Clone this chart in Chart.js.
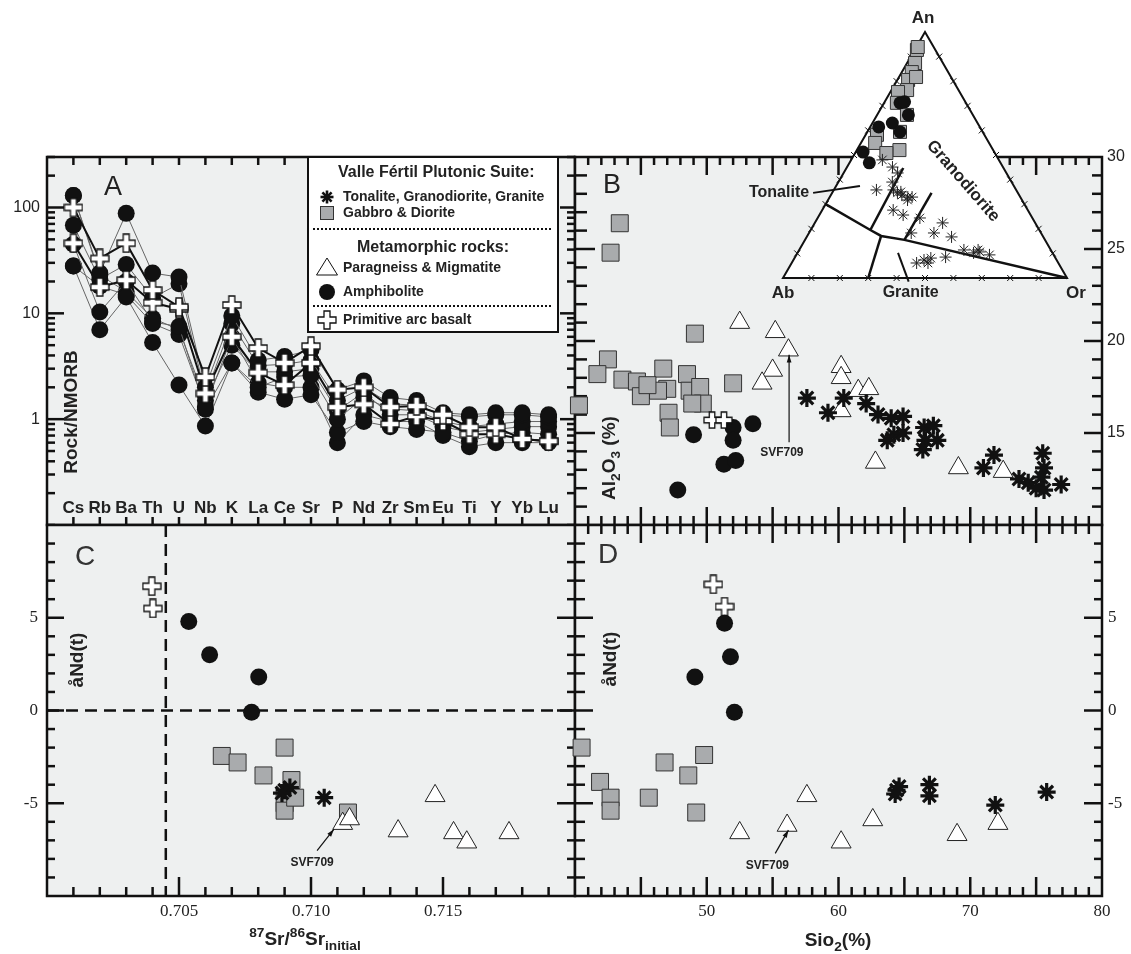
<!DOCTYPE html>
<html>
<head>
<meta charset="utf-8">
<script src="https://cdn.jsdelivr.net/npm/chart.js@4.4.1/dist/chart.umd.min.js"></script>
<style>
  html, body { margin: 0; padding: 0; background: #fff; }
  #wrap { position: relative; width: 1131px; height: 954px; overflow: hidden; }
  #wrap canvas { position: absolute; left: 0; top: 0; }
</style>
</head>
<body>
<div id="wrap">
  <canvas id="chartA" width="1131" height="954"></canvas>
  <canvas id="chartB" width="1131" height="954"></canvas>
  <canvas id="chartC" width="1131" height="954"></canvas>
  <canvas id="chartD" width="1131" height="954"></canvas>
  <canvas id="chartT" width="1131" height="954"></canvas>
</div>
<script>
// ---- data -------------------------------------------------------------

// A: rock / NMORB spider diagram
var elements = ['Cs', 'Rb', 'Ba', 'Th', 'U', 'Nb', 'K', 'La', 'Ce', 'Sr', 'P', 'Nd', 'Zr', 'Sm', 'Eu', 'Ti', 'Y', 'Yb', 'Lu'];
var amph1 = [130, 24, 88, 24, 22, 2.0, 9.5, 3.6, 3.9, 4.5, 1.9, 2.3, 1.6, 1.5, 1.15, 1.1, 1.15, 1.15, 1.1];
var amph2 = [68, 21, 29, 14, 19, 1.7, 8.0, 3.2, 3.3, 3.6, 1.5, 2.0, 1.4, 1.35, 1.1, 1.05, 1.1, 1.1, 1.05];
var amph3 = [45, 10.3, 20, 8.3, 7.5, 1.24, 3.4, 2.0, 2.5, 2.6, 1.0, 1.6, 1.25, 1.2, 0.95, 0.85, 0.9, 0.95, 0.95];
var amph4 = [28, 7, 14.3, 5.3, 2.1, 0.86, 3.4, 1.8, 1.54, 1.7, 0.75, 0.95, 0.85, 0.8, 0.75, 0.62, 0.72, 0.75, 0.72];
var amph5 = [28, 18, 15, 8, 6.3, 1.3, 6.0, 2.2, 2.0, 2.0, 0.6, 1.1, 0.95, 0.95, 0.7, 0.55, 0.6, 0.6, 0.6];
var amph6 = [130, 23, 16, 9, 7, 1.5, 5.0, 2.8, 2.8, 3.0, 1.2, 1.8, 1.1, 1.1, 0.85, 0.75, 0.8, 0.85, 0.85];
var arcBasalt1 = [100, 33, 46, 16.6, 11.5, 2.5, 12, 4.7, 3.4, 4.9, 1.9, 2.0, 1.3, 1.33, 1.1, 0.84, 0.84, 0.65, 0.62];
var arcBasalt2 = [46, 17.7, 20.6, 12.6, 11.0, 1.75, 6.0, 2.75, 2.1, 3.4, 1.3, 1.38, 0.9, 1.07, 0.96, 0.72, 0.72, 0.65, 0.62];
var aTickLabels = [1, 10, 100];

// B: SiO2 vs Al2O3 [SiO2, Al2O3]
var gabbroB = [[43.4, 26.4], [42.7, 24.8], [49.1, 20.4], [42.5, 19.0], [41.7, 18.2], [40.3, 16.5], [43.6, 17.9],
  [44.7, 17.8], [45.0, 17.0], [46.7, 18.5], [47.0, 17.4], [46.3, 17.3], [48.5, 18.2], [48.7, 17.3], [49.5, 17.5],
  [49.7, 16.6], [47.1, 16.1], [47.2, 15.3], [52.0, 17.7], [45.5, 17.6], [48.9, 16.6]];
var amphB = [[53.5, 15.5], [49.0, 14.9], [52.0, 15.3], [52.0, 14.6], [51.3, 13.3], [52.2, 13.5], [47.8, 11.9]];
var arcB = [[50.4, 15.7], [51.3, 15.7]];
var paraB = [[52.5, 21.0], [55.2, 20.5], [56.2, 19.5], [55.0, 18.4], [54.2, 17.7], [60.2, 18.6], [60.2, 18.0],
  [60.2, 16.2], [61.5, 17.3], [62.3, 17.4], [62.8, 13.4], [69.1, 13.1], [72.5, 12.9]];
var tonB = [[57.6, 16.9], [60.4, 16.9], [59.2, 16.1], [62.1, 16.6], [63.0, 16.0], [64.0, 15.8], [64.9, 15.9],
  [64.2, 14.9], [63.7, 14.6], [64.9, 15.0], [66.5, 15.3], [67.2, 15.4], [66.6, 14.6], [66.4, 14.1], [67.5, 14.6],
  [71.8, 13.8], [71.0, 13.1], [75.5, 13.9], [75.6, 13.1], [74.4, 12.3], [75.6, 11.9], [76.9, 12.2], [75.4, 12.6],
  [73.7, 12.5], [75.0, 12.0]];
var bTickLabels = [15, 20, 25, 30];

// C: 87Sr/86Sr(i) vs eNd(t)
var arcC = [[0.70397, 6.7], [0.70401, 5.5]];
var amphC = [[0.70537, 4.8], [0.70616, 3.0], [0.70802, 1.8], [0.70775, -0.1]];
var gabbroC = [[0.70662, -2.45], [0.70722, -2.8], [0.7082, -3.5], [0.7090, -2.0], [0.70926, -3.75], [0.7090, -5.0],
  [0.7090, -5.4], [0.7094, -4.7], [0.7114, -5.5]];
var tonC = [[0.7090, -4.3], [0.7092, -4.15], [0.7089, -4.45], [0.7105, -4.7]];
var paraC = [[0.7112, -6.1], [0.71146, -5.85], [0.7133, -6.5], [0.7147, -4.6], [0.7154, -6.6], [0.7159, -7.1], [0.7175, -6.6]];
var cTickLabels = ['0.705', '0.710', '0.715'];
var srCutoff = 0.7045;

// D: SiO2 vs eNd(t)
var arcD = [[50.5, 6.8], [51.35, 5.6]];
var amphD = [[51.35, 4.7], [51.8, 2.9], [49.1, 1.8], [52.1, -0.1]];
var gabbroD = [[40.5, -2.0], [46.8, -2.8], [49.8, -2.4], [48.6, -3.5], [41.9, -3.85], [42.7, -4.7], [42.7, -5.4],
  [45.6, -4.7], [49.2, -5.5]];
var paraD = [[52.5, -6.6], [56.1, -6.2], [57.6, -4.6], [60.2, -7.1], [62.6, -5.9], [69.0, -6.7], [72.1, -6.1]];
var tonD = [[64.4, -4.3], [64.6, -4.1], [64.3, -4.5], [66.9, -4.0], [66.9, -4.6], [71.9, -5.1], [75.8, -4.4]];
var ndTickLabels = [-5, 0, 5];
var dTickLabels = [50, 60, 70, 80];

// ternary An-Ab-Or inset, [An, Or] in %
var gabbroT = [[92.7, 0.8], [87.4, 2.8], [83.7, 3.5], [80.5, 3.8], [76.4, 5.5], [75.6, 2.7], [71.2, 4.5], [66.3, 10.5],
  [59.4, 11.5], [58.2, 4], [54.9, 5], [52, 15], [50.8, 11], [81.7, 6], [93.9, 0.5]];
var amphT = [[71.2, 5.6], [71.6, 7], [66.3, 11], [61.4, 3], [63, 7], [59.4, 11.5], [51.2, 2.6], [46.8, 7]];
var tonT = [[48, 11], [45.1, 16], [42.7, 19], [39, 19], [35.8, 15], [35.8, 21], [35, 24], [33.7, 25], [32.9, 27.5],
  [32.9, 29], [27.6, 25], [25.6, 29.5], [24.4, 36], [18.3, 36], [22.4, 45], [18.3, 44], [16.7, 51], [11.4, 58],
  [10.2, 62], [10.6, 64], [9.4, 68], [8.5, 53], [6.1, 44], [7.3, 46], [8.1, 48], [6.1, 48], [34.6, 23], [31.7, 28], [11.4, 63]];
var fieldLines = [
  [[30, 0], [19.5, 21], [17.1, 26], [15.5, 35], [0, 100]],
  [[0, 30], [17.1, 26]],
  [[19.5, 21], [44.7, 20]],
  [[15.5, 35], [34.6, 35]]
];

// ---- helpers ----------------------------------------------------------
var W = 1131, H = 954;
var BG = '#eef0f0', SQ = '#a9abad', INK = '#111';
var SANS = '"Liberation Sans", Arial, sans-serif';
var SERIF = '"Liberation Serif", "Times New Roman", serif';

function pairs(arr) { return arr.map(function (p) { return {x: p[0], y: p[1]}; }); }
function spider(vals) { return vals.map(function (v, i) { return {x: i + 1, y: v}; }); }
function tern(an, or) { return {x: (or + an / 2) / 100, y: an * Math.sqrt(3) / 200}; }
function ternPts(arr) { return arr.map(function (p) { return tern(p[0], p[1]); }); }
function range(a, b, step) { var out = []; for (var i = 0; a + i * step <= b + 1e-9; i++) out.push(+(a + i * step).toFixed(6)); return out; }

function plusGlyph(size, arm) {
  var c = document.createElement('canvas');
  c.width = size + 2; c.height = size + 2;
  var g = c.getContext('2d'), o = 1, s = size, m = (size - arm) / 2;
  g.beginPath();
  g.moveTo(o + m, o); g.lineTo(o + m + arm, o); g.lineTo(o + m + arm, o + m); g.lineTo(o + s, o + m);
  g.lineTo(o + s, o + m + arm); g.lineTo(o + m + arm, o + m + arm); g.lineTo(o + m + arm, o + s);
  g.lineTo(o + m, o + s); g.lineTo(o + m, o + m + arm); g.lineTo(o, o + m + arm); g.lineTo(o, o + m);
  g.lineTo(o + m, o + m); g.closePath();
  g.fillStyle = '#fff'; g.fill();
  g.lineWidth = 1.3; g.strokeStyle = INK; g.stroke();
  return c;
}
var plusBig = plusGlyph(18, 6), plusMid = plusGlyph(16, 5.5);

var st = {
  ast: {pointStyle: 'star', pointRadius: 9, pointBorderWidth: 3.2, pointBorderColor: INK, pointBackgroundColor: INK},
  sq: {pointStyle: 'rect', pointRadius: 12, pointBackgroundColor: SQ, pointBorderColor: '#333', pointBorderWidth: 1},
  tri: {pointStyle: 'triangle', pointRadius: 11.5, pointBackgroundColor: '#fff', pointBorderColor: '#222', pointBorderWidth: 1},
  dot: {pointStyle: 'circle', pointRadius: 8.5, pointBackgroundColor: INK, pointBorderColor: INK, pointBorderWidth: 0},
  plus: {pointStyle: plusBig, pointRadius: 9},
  plusB: {pointStyle: plusMid, pointRadius: 8},
  astT: {pointStyle: 'star', pointRadius: 6, pointBorderWidth: 1, pointBorderColor: '#222'},
  sqT: {pointStyle: 'rect', pointRadius: 9.2, pointBackgroundColor: SQ, pointBorderColor: '#333', pointBorderWidth: 1},
  dotT: {pointStyle: 'circle', pointRadius: 6.5, pointBackgroundColor: INK, pointBorderColor: INK, pointBorderWidth: 0}
};
function ds(data, style, extra) {
  var d = Object.assign({data: data, showLine: false, clip: false}, style);
  return Object.assign(d, extra || {});
}

function drawPanel(chart) {
  var ctx = chart.ctx, a = chart.chartArea;
  ctx.save();
  ctx.fillStyle = BG;
  ctx.fillRect(a.left, a.top, a.right - a.left, a.bottom - a.top);
  ctx.strokeStyle = INK; ctx.lineWidth = 2.5;
  ctx.strokeRect(a.left, a.top, a.right - a.left, a.bottom - a.top);
  ctx.restore();
}
function drawTicks(chart, axis, vals, side, lenFn) {
  var ctx = chart.ctx, a = chart.chartArea, s = chart.scales[axis];
  ctx.save(); ctx.strokeStyle = INK; ctx.lineWidth = 2.5;
  vals.forEach(function (v) {
    var p = s.getPixelForValue(v), len = lenFn(v);
    ctx.beginPath();
    if (side === 'left') { ctx.moveTo(a.left, p); ctx.lineTo(a.left + len, p); }
    if (side === 'right') { ctx.moveTo(a.right, p); ctx.lineTo(a.right - len, p); }
    if (side === 'top') { ctx.moveTo(p, a.top); ctx.lineTo(p, a.top + len); }
    if (side === 'bottom') { ctx.moveTo(p, a.bottom); ctx.lineTo(p, a.bottom - len); }
    ctx.stroke();
  });
  ctx.restore();
}
function text(ctx, str, x, y, font, align, rot, color) {
  ctx.save(); ctx.translate(x, y); ctx.rotate(rot || 0);
  ctx.font = font; ctx.fillStyle = color || '#222';
  ctx.textAlign = align || 'center'; ctx.textBaseline = 'middle';
  ctx.fillText(str, 0, 0); ctx.restore();
}
// parts: [string, shift] with shift 1 = superscript, -1 = subscript
function richText(ctx, parts, x, y, size, rot) {
  ctx.save(); ctx.translate(x, y); ctx.rotate(rot || 0);
  ctx.fillStyle = '#222'; ctx.textBaseline = 'middle'; ctx.textAlign = 'left';
  function f(p) { return 'bold ' + (p[1] ? size * 0.72 : size) + 'px ' + SANS; }
  var total = 0;
  parts.forEach(function (p) { ctx.font = f(p); total += ctx.measureText(p[0]).width; });
  var cx = -total / 2;
  parts.forEach(function (p) {
    ctx.font = f(p);
    var dy = p[1] === 1 ? -size * 0.38 : (p[1] === -1 ? size * 0.32 : 0);
    ctx.fillText(p[0], cx, dy);
    cx += ctx.measureText(p[0]).width;
  });
  ctx.restore();
}
function arrow(chart, label, lx, ly, x0, y0, x1, y1) {
  var ctx = chart.ctx, sx = chart.scales.x, sy = chart.scales.y;
  var ax = sx.getPixelForValue(x0), ay = sy.getPixelForValue(y0);
  var bx = sx.getPixelForValue(x1), by = sy.getPixelForValue(y1);
  ctx.save(); ctx.strokeStyle = INK; ctx.fillStyle = INK; ctx.lineWidth = 1.2;
  ctx.beginPath(); ctx.moveTo(ax, ay); ctx.lineTo(bx, by); ctx.stroke();
  var ang = Math.atan2(by - ay, bx - ax);
  ctx.beginPath(); ctx.moveTo(bx, by);
  ctx.lineTo(bx - 8 * Math.cos(ang - 0.3), by - 8 * Math.sin(ang - 0.3));
  ctx.lineTo(bx - 8 * Math.cos(ang + 0.3), by - 8 * Math.sin(ang + 0.3));
  ctx.closePath(); ctx.fill();
  ctx.restore();
  text(ctx, label, sx.getPixelForValue(lx), sy.getPixelForValue(ly), 'bold 12px ' + SANS);
}
function legendSym(ctx, kind, x, y) {
  ctx.save(); ctx.strokeStyle = INK; ctx.fillStyle = INK;
  if (kind === 'ast') {
    ctx.lineWidth = 2.6;
    for (var k = 0; k < 4; k++) {
      var an = k * Math.PI / 4;
      ctx.beginPath(); ctx.moveTo(x - 6.5 * Math.cos(an), y - 6.5 * Math.sin(an));
      ctx.lineTo(x + 6.5 * Math.cos(an), y + 6.5 * Math.sin(an)); ctx.stroke();
    }
  } else if (kind === 'sq') {
    ctx.fillStyle = SQ; ctx.fillRect(x - 6.5, y - 6.5, 13, 13);
    ctx.lineWidth = 1; ctx.strokeStyle = '#333'; ctx.strokeRect(x - 6.5, y - 6.5, 13, 13);
  } else if (kind === 'tri') {
    ctx.beginPath(); ctx.moveTo(x, y - 10); ctx.lineTo(x + 10.5, y + 7); ctx.lineTo(x - 10.5, y + 7); ctx.closePath();
    ctx.fillStyle = '#fff'; ctx.fill(); ctx.lineWidth = 1; ctx.stroke();
  } else if (kind === 'dot') {
    ctx.beginPath(); ctx.arc(x, y, 8, 0, Math.PI * 2); ctx.fill();
  } else if (kind === 'plus') {
    ctx.drawImage(plusBig, x - plusBig.width / 2, y - plusBig.height / 2);
  }
  ctx.restore();
}
function makeChart(id, area, xs, ys, datasets, before, after) {
  return new Chart(document.getElementById(id), {
    type: 'scatter',
    data: {datasets: datasets},
    options: {
      responsive: false, animation: false, events: [],
      layout: {padding: {left: area[0], top: area[1], right: W - area[2], bottom: H - area[3]}},
      scales: {x: Object.assign({display: false}, xs), y: Object.assign({display: false}, ys)},
      plugins: {legend: {display: false}, tooltip: {enabled: false}}
    },
    plugins: [{id: id + 'Deco', beforeDatasetsDraw: before, afterDatasetsDraw: after || function () {}}]
  });
}

// panel edges
var PL = 47, PMX = 575, PR = 1102, PT = 157, PMY = 525, PB = 896;

// ---- A ----------------------------------------------------------------
var logTicks = [];
[0.1, 1, 10, 100].forEach(function (d) {
  for (var m = 1; m <= 9; m++) { var v = +(m * d).toPrecision(3); if (v <= 300) logTicks.push(v); }
});
var catPos = elements.map(function (e, i) { return i + 1; });
var amphStyle = Object.assign({}, st.dot, {showLine: true, borderColor: '#666', borderWidth: 1});
var arcStyle = Object.assign({}, st.plus, {showLine: true, borderColor: INK, borderWidth: 2});

makeChart('chartA', [PL, PT, PMX, PMY],
  {type: 'linear', min: 0, max: 20}, {type: 'logarithmic', min: 0.1, max: 300},
  [ds(spider(arcBasalt1), arcStyle), ds(spider(arcBasalt2), arcStyle),
   ds(spider(amph1), amphStyle), ds(spider(amph2), amphStyle), ds(spider(amph3), amphStyle),
   ds(spider(amph4), amphStyle), ds(spider(amph5), amphStyle), ds(spider(amph6), amphStyle)],
  function (chart) {
    var ctx = chart.ctx, sx = chart.scales.x, sy = chart.scales.y;
    drawPanel(chart);
    var major = function (v) { return aTickLabels.indexOf(v) >= 0; };
    drawTicks(chart, 'y', logTicks, 'left', function (v) { return major(v) ? 17 : 8; });
    drawTicks(chart, 'y', logTicks, 'right', function (v) { return major(v) ? 15 : 8; });
    drawTicks(chart, 'x', catPos, 'top', function () { return 8; });
    drawTicks(chart, 'x', catPos, 'bottom', function () { return 8; });
    aTickLabels.forEach(function (v) { text(ctx, String(v), 40, sy.getPixelForValue(v), '16px ' + SANS, 'right'); });
    elements.forEach(function (e, i) { text(ctx, e, sx.getPixelForValue(i + 1), 508, 'bold 17px ' + SANS); });
    text(ctx, 'A', 113, 188, '27px ' + SANS);
    text(ctx, 'Rock/NMORB', 72, 412, 'bold 19px ' + SANS, 'center', -Math.PI / 2);
  },
  function (chart) {
    var ctx = chart.ctx;
    ctx.save();
    ctx.fillStyle = '#fff'; ctx.fillRect(308, 157, 250, 175);
    ctx.strokeStyle = INK; ctx.lineWidth = 2; ctx.strokeRect(308, 157, 250, 175);
    ctx.setLineDash([2, 2]); ctx.lineWidth = 2;
    [229, 306].forEach(function (y) { ctx.beginPath(); ctx.moveTo(313, y); ctx.lineTo(553, y); ctx.stroke(); });
    ctx.restore();
    text(ctx, 'Valle Fértil Plutonic Suite:', 338, 173, 'bold 16px ' + SANS, 'left');
    text(ctx, 'Metamorphic rocks:', 357, 248, 'bold 16px ' + SANS, 'left');
    var rows = [['ast', 'Tonalite, Granodiorite, Granite', 197], ['sq', 'Gabbro & Diorite', 213],
      ['tri', 'Paragneiss & Migmatite', 268], ['dot', 'Amphibolite', 292], ['plus', 'Primitive arc basalt', 320]];
    rows.forEach(function (r) {
      legendSym(ctx, r[0], 327, r[2]);
      text(ctx, r[1], 343, r[2], 'bold 14px ' + SANS, 'left');
    });
  });

// ---- B ----------------------------------------------------------------
var siTicks = range(41, 79, 1);
var alTicks = range(11, 29, 1);
var siMajor = function (v) { return v % 5 === 0; };
makeChart('chartB', [PMX, PT, PR, PMY],
  {type: 'linear', min: 40, max: 80}, {type: 'linear', min: 10, max: 30},
  [ds(pairs(tonB), st.ast), ds(pairs(arcB), st.plusB), ds(pairs(amphB), st.dot),
   ds(pairs(paraB), st.tri), ds(pairs(gabbroB), st.sq)],
  function (chart) {
    var ctx = chart.ctx, sy = chart.scales.y;
    drawPanel(chart);
    drawTicks(chart, 'x', siTicks, 'top', function (v) { return siMajor(v) ? 18 : 8; });
    drawTicks(chart, 'x', siTicks, 'bottom', function (v) { return siMajor(v) ? 18 : 9; });
    drawTicks(chart, 'y', alTicks, 'left', function (v) { return siMajor(v) ? 20 : 12; });
    drawTicks(chart, 'y', alTicks, 'right', function (v) { return siMajor(v) ? 18 : 10; });
    bTickLabels.forEach(function (v) { text(ctx, String(v), 1107, sy.getPixelForValue(v), '16px ' + SANS, 'left'); });
    text(ctx, 'B', 612, 186, '27px ' + SANS);
    richText(ctx, [['Al', 0], ['2', -1], ['O', 0], ['3', -1], [' (%)', 0]], 610, 458, 19, -Math.PI / 2);
  },
  function (chart) {
    arrow(chart, 'SVF709', 55.7, 13.95, 56.25, 14.5, 56.25, 19.25);
  });

// ---- C ----------------------------------------------------------------
var srTicks = range(0.701, 0.719, 0.001);
var srMajor = function (v) { return cTickLabels.indexOf(v.toFixed(3)) >= 0; };
var ndTicks = range(-9, 9, 1);
makeChart('chartC', [PL, PMY, PMX, PB],
  {type: 'linear', min: 0.700, max: 0.720}, {type: 'linear', min: -10, max: 10},
  [ds(pairs(tonC), st.ast), ds(pairs(paraC), st.tri), ds(pairs(amphC), st.dot),
   ds(pairs(arcC), st.plus), ds(pairs(gabbroC), st.sq)],
  function (chart) {
    var ctx = chart.ctx, sx = chart.scales.x, sy = chart.scales.y, a = chart.chartArea;
    drawPanel(chart);
    drawTicks(chart, 'y', ndTicks, 'left', function (v) { return v % 5 === 0 ? 17 : 8; });
    drawTicks(chart, 'y', ndTicks, 'right', function (v) { return v % 5 === 0 ? 18 : 8; });
    drawTicks(chart, 'x', srTicks, 'bottom', function (v) { return srMajor(v) ? 19 : 9; });
    ndTickLabels.forEach(function (v) { text(ctx, String(v), 38, sy.getPixelForValue(v), '17px ' + SERIF, 'right'); });
    cTickLabels.forEach(function (s) { text(ctx, s, sx.getPixelForValue(+s), 912, '17px ' + SERIF); });
    // reference dashed lines
    ctx.save(); ctx.strokeStyle = INK; ctx.lineWidth = 2.5; ctx.setLineDash([12, 7]);
    var x0 = sx.getPixelForValue(srCutoff), y0 = sy.getPixelForValue(0);
    ctx.beginPath(); ctx.moveTo(x0, a.top); ctx.lineTo(x0, a.bottom); ctx.stroke();
    ctx.beginPath(); ctx.moveTo(a.left, y0); ctx.lineTo(a.right, y0); ctx.stroke();
    ctx.restore();
    text(ctx, 'C', 85, 557, '28px ' + SANS, 'center', 0, '#333');
    text(ctx, 'åNd(t)', 78, 660, 'bold 19px ' + SANS, 'center', -Math.PI / 2);
    richText(ctx, [['87', 1], ['Sr/', 0], ['86', 1], ['Sr', 0], ['initial', -1]], 305, 940, 19, 0);
  },
  function (chart) {
    arrow(chart, 'SVF709', 0.71004, -8.2, 0.71023, -7.55, 0.71087, -6.4);
  });

// ---- D ----------------------------------------------------------------
makeChart('chartD', [PMX, PMY, PR, PB],
  {type: 'linear', min: 40, max: 80}, {type: 'linear', min: -10, max: 10},
  [ds(pairs(tonD), st.ast), ds(pairs(paraD), st.tri), ds(pairs(amphD), st.dot),
   ds(pairs(arcD), st.plus), ds(pairs(gabbroD), st.sq)],
  function (chart) {
    var ctx = chart.ctx, sx = chart.scales.x, sy = chart.scales.y;
    drawPanel(chart);
    drawTicks(chart, 'x', siTicks, 'top', function (v) { return siMajor(v) ? 18 : 9; });
    drawTicks(chart, 'x', siTicks, 'bottom', function (v) { return siMajor(v) ? 19 : 9; });
    drawTicks(chart, 'y', ndTicks, 'left', function (v) { return v % 5 === 0 ? 18 : 10; });
    drawTicks(chart, 'y', ndTicks, 'right', function (v) { return v % 5 === 0 ? 18 : 8; });
    ndTickLabels.forEach(function (v) { text(ctx, String(v), 1108, sy.getPixelForValue(v), '17px ' + SERIF, 'left'); });
    dTickLabels.forEach(function (v) { text(ctx, String(v), sx.getPixelForValue(v), 912, '17px ' + SERIF); });
    text(ctx, 'D', 608, 555, '28px ' + SANS, 'center', 0, '#333');
    text(ctx, 'åNd(t)', 611, 659, 'bold 19px ' + SANS, 'center', -Math.PI / 2);
    richText(ctx, [['Sio', 0], ['2', -1], ['(%)', 0]], 838, 941, 19, 0);
  },
  function (chart) {
    arrow(chart, 'SVF709', 54.6, -8.35, 55.2, -7.7, 56.2, -6.45);
  });

// ---- ternary inset ----------------------------------------------------
makeChart('chartT', [783, 32, 1067, 278],
  {type: 'linear', min: 0, max: 1}, {type: 'linear', min: 0, max: Math.sqrt(3) / 2},
  [ds(ternPts(tonT), st.astT), ds(ternPts(amphT), st.dotT), ds(ternPts(gabbroT), st.sqT)],
  function (chart) {
    var ctx = chart.ctx, sx = chart.scales.x, sy = chart.scales.y;
    function px(an, or) { var p = tern(an, or); return [sx.getPixelForValue(p.x), sy.getPixelForValue(p.y)]; }
    var ab = px(0, 0), or = px(0, 100), an = px(100, 0);
    ctx.save();
    ctx.beginPath(); ctx.moveTo(ab[0], ab[1]); ctx.lineTo(or[0], or[1]); ctx.lineTo(an[0], an[1]); ctx.closePath();
    ctx.fillStyle = '#fff'; ctx.fill();
    ctx.strokeStyle = INK; ctx.lineWidth = 2; ctx.lineJoin = 'miter'; ctx.stroke();
    // 10 % marks on each side
    ctx.lineWidth = 1;
    for (var i = 1; i <= 9; i++) {
      var f = i * 10;
      [px(0, f), px(f, 0), px(f, 100 - f)].forEach(function (p) {
        ctx.beginPath();
        ctx.moveTo(p[0] - 3, p[1] - 3); ctx.lineTo(p[0] + 3, p[1] + 3);
        ctx.moveTo(p[0] + 3, p[1] - 3); ctx.lineTo(p[0] - 3, p[1] + 3);
        ctx.stroke();
      });
    }
    ctx.lineWidth = 2.5;
    fieldLines.forEach(function (line) {
      ctx.beginPath();
      line.forEach(function (q, k) { var p = px(q[0], q[1]); if (k) ctx.lineTo(p[0], p[1]); else ctx.moveTo(p[0], p[1]); });
      ctx.stroke();
    });
    // leader lines to the field names
    ctx.lineWidth = 2;
    [[[34.6, -6.7], [37.4, 8.4]], [[10.2, 35.4], [-1.5, 45]]].forEach(function (l) {
      var p = px(l[0][0], l[0][1]), q = px(l[1][0], l[1][1]);
      ctx.beginPath(); ctx.moveTo(p[0], p[1]); ctx.lineTo(q[0], q[1]); ctx.stroke();
    });
    ctx.restore();
    var f17 = 'bold 17px ' + SANS;
    text(ctx, 'An', an[0] - 2, an[1] - 14, f17);
    text(ctx, 'Ab', ab[0], ab[1] + 15, f17);
    text(ctx, 'Or', or[0] + 9, or[1] + 15, f17);
    var g = px(-1.5, 45), t = px(34.6, -6.7), gd = px(39.4, 43.7);
    text(ctx, 'Granite', g[0] + 2, ab[1] + 15, 'bold 16px ' + SANS);
    text(ctx, 'Tonalite', t[0] - 4, t[1], 'bold 16px ' + SANS, 'right');
    text(ctx, 'Granodiorite', gd[0], gd[1], f17, 'center', 0.855);
  });
</script>
</body>
</html>
